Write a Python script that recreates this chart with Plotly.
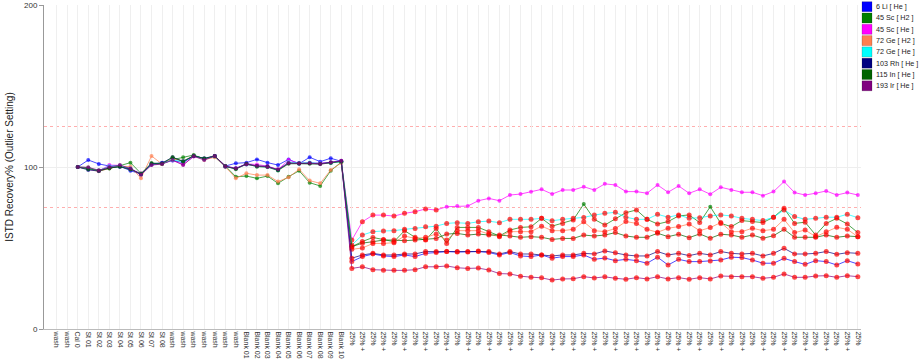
import plotly.graph_objects as go

# ---------------- data ----------------
tick_labels = (["wash", "wash", "Cal 0"] + ["St %02d" % i for i in range(1, 9)] + ["wash"] * 7
               + ["Blank %02d" % i for i in range(1, 11)]
               + [("25%" if k % 2 == 0 else "25% +") for k in range(49)])

series_names = ["6 Li [ He ]", "45 Sc [ H2 ]", "45 Sc [ He ]", "72 Ge [ H2 ]",
                "72 Ge [ He ]", "103 Rh [ He ]", "115 In [ He ]", "193 Ir [ He ]"]
series_colors = ["#0000FF", "#008000", "#FF00FF", "#FF7F50",
                 "#00FFFF", "#000080", "#006400", "#800080"]

li6 = [None, None,
       100, 104.3, 101.9, 100.6, 100.5, 97.7, 95.7, 101.5, 102.7, 104, 102.7, 107, 105, 106.8, 100.6,
       102.3, 102.7, 104.7, 102.7, 101.2, 104.7, 102, 106, 103.3, 105.4, 103.5,
       41.6, 44.7, 46.3, 45.1, 44.7, 45.7, 44.7, 46.7, 47.2, 47.8, 47.5, 47.5, 47.8, 47.2, 45.7,
       47.2, 45.1, 44.7, 45.7, 43.7, 44.7, 44.7, 45.7, 43, 43.8, 42.2, 43, 42.2, 40.6, 44.3,
       39.5, 43, 41.6, 41.6, 42, 42.6, 44.3, 44.1, 42.6, 40.6, 40.6, 43.6, 41.6, 39.9, 42.2,
       41.6, 39.5, 42.2, 40.1]
sc45_h2 = [None, None,
           100, 99.6, 97.5, 99, 100.8, 102.7, 96, 101.5, 102, 104.5, 106, 107.4, 105, 106.5, 100.6,
           94, 94.4, 93, 94.4, 89.9, 94, 97.7, 90.3, 88.3, 97.7, 103,
           50.8, 54, 56.5, 55.3, 53.9, 60.7, 56.6, 54.9, 62.1, 52.8, 62.7, 62.7, 62.7, 60.1, 57.4,
           61.1, 62.7, 63.1, 68.3, 63.5, 65.2, 67.3, 77.1, 67.7, 64.2, 68, 71.8, 73.5, 67.7, 64.8,
           66.3, 69.8, 70.4, 65.7, 75.5, 65.2, 63.2, 66.9, 66.3, 65.7, 69, 74.5, 65.2, 65.9, 58,
           65.2, 68.3, 64.8, 59.5]
sc45_he = [None, None,
           100, 98.8, 97.5, 101.2, 101, 99, 96, 101.5, 102.2, 104, 101.5, 106.5, 104.8, 106.8, 100.6,
           99.2, 102, 101.5, 100.6, 98.4, 104.3, 102.3, 102.5, 102.3, 102.8, 103.8,
           54.9, 66.2, 70.3, 70.3, 69.7, 71.4, 72.4, 74.1, 73.4, 75.5, 75.9, 75.9, 79.2, 80.6, 79.2,
           82.7, 83.3, 84.7, 86.2, 83.3, 85.8, 85.8, 87.8, 85.8, 89.6, 88.9, 84.8, 84.8, 83.8, 88.9,
           84.4, 88.3, 83.8, 86.2, 83.2, 87.5, 85.8, 84.4, 84.4, 82.3, 84.8, 91, 84.2, 82.7, 83.8,
           85.2, 82.7, 84.2, 82.7]
ge72_h2 = [None, None,
           100, 98.8, 97.3, 99.2, 100.5, 100.2, 93, 106.8, 101.8, 105, 103.8, 107, 104.5, 106, 100.2,
           93, 96.1, 95, 95, 91, 93.6, 98.6, 91.6, 89.9, 98.2, 102.5,
           49.2, 50, 52.8, 52.8, 53.3, 57.4, 55.9, 56.6, 58.6, 54.9, 60.7, 60.7, 60.7, 58.6, 57,
           60.1, 60.1, 60.1, 63.5, 60.7, 60.7, 61.5, 66.2, 60.7, 60.1, 62, 66.3, 65.2, 61.5, 59.7,
           62.2, 63.2, 64.8, 60.7, 62.6, 65.7, 60.1, 60.1, 62.2, 60.7, 61.5, 67.7, 59.5, 61.1, 57,
           60.1, 62.8, 61.5, 57]
ge72_he = [None, None,
           100, 98.7, 97.8, 100.5, 100.8, 99, 95.5, 101.8, 102.2, 104.2, 103.5, 106.8, 105, 106.6, 100.4,
           99, 101.6, 100.4, 100, 98, 103, 102.5, 102.8, 102.2, 102.5, 103.3,
           51.8, 58, 60.1, 60.5, 60.7, 61.5, 62.1, 63.1, 63.5, 65.2, 65.6, 65.2, 66.2, 66.6, 65.6,
           67.7, 67.7, 67.7, 68.3, 66.8, 67.7, 68.3, 68.9, 70.3, 71.4, 72, 69, 67.7, 67.7, 70.8,
           69, 70.4, 68.3, 68.7, 69.8, 70.4, 69.8, 68.3, 67.7, 66.9, 69, 73.5, 69.4, 67.7, 68.3,
           69, 69, 70.8, 68.7]
rh103 = [None, None,
         100, 98.2, 97.5, 99.5, 100, 98.8, 95.5, 102, 102.5, 106, 103.5, 106.8, 105.4, 106.8, 100.2,
         99, 102, 100.6, 100.4, 98.2, 102.3, 102.3, 102.3, 102, 103, 103.5,
         43.7, 45.7, 46.7, 45.7, 45.7, 46.3, 46.3, 47.8, 47.8, 47.8, 47.8, 47.8, 48.2, 47.8, 46.3,
         47.8, 46.3, 46.3, 45.7, 45.1, 45.7, 45.7, 46.7, 46.3, 48.2, 47.1, 45.7, 45.1, 45.1, 47.8,
         45.7, 46.7, 45.3, 46.7, 45.7, 47.8, 46.7, 46.3, 46.7, 45.1, 46.7, 49.8, 46.3, 46.3, 46.7,
         47.8, 46.1, 47.1, 46.7]
in115 = [None, None,
         100, 98.8, 97.8, 99.3, 100.3, 98.5, 95.8, 102.5, 102, 106, 103.3, 107, 105.2, 106.8, 100.6,
         98.6, 101.9, 100.2, 100, 97.8, 102, 102, 102, 101.8, 102.5, 103.3,
         50.8, 53, 53.9, 54.9, 54.9, 54.5, 54.9, 55.3, 55.9, 58.6, 59, 58, 58.6, 58, 58,
         57.4, 56.6, 57, 56.6, 55.3, 55.9, 55.9, 58, 57.4, 58, 59.5, 57.4, 56.6, 56.6, 59.1,
         57, 58.5, 56.4, 58.7, 56, 58.5, 58, 56.6, 58, 56, 57.6, 61.5, 56.6, 56.6, 56.6,
         58, 56.6, 57.4, 57]
ir193 = [None, None,
         100, 99.8, 98, 100, 101.2, 99, 95.2, 101.2, 101.8, 104.3, 101.2, 106.6, 104.3, 106.8, 100.5,
         99.2, 101.5, 100.8, 100, 98.6, 102.5, 102.3, 102.5, 101.8, 102.8, 103.8,
         37.4, 38.4, 36.6, 36.2, 36.2, 36.2, 36.6, 38.4, 38.4, 38.9, 37.8, 37.4, 37.6, 36.4, 34.2,
         34, 32.6, 32, 31.6, 30.2, 30.9, 31, 32.3, 31.5, 32.2, 31.3, 30.7, 31.7, 30.9, 32.3,
         30.9, 31.7, 30.7, 31.7, 30.9, 32.7, 32.3, 32.3, 32.3, 31.3, 31.9, 34, 31.9, 31.9, 32.7,
         32.9, 31.9, 32.9, 32.3]

all_series = [li6, sc45_h2, sc45_he, ge72_h2, ge72_he, rh103, in115, ir193]
lower_limit = 75
upper_limit = 125
y_ticks = [0, 100, 200]

# ---------------- figure ----------------
FONT = "Arial, Liberation Sans, sans-serif"
x_idx = list(range(len(tick_labels)))


def rgba(hex_color, a):
    h = hex_color.lstrip("#")
    return "rgba(%d,%d,%d,%.2f)" % (int(h[0:2], 16), int(h[2:4], 16), int(h[4:6], 16), a)


fig = go.Figure()
for name, color, vals in zip(series_names, series_colors, all_series):
    mcolors, msizes = [], []
    for v in vals:
        if v is not None and (v < lower_limit or v > upper_limit):
            mcolors.append("#FF0000")
            msizes.append(5)
        else:
            mcolors.append(color)
            msizes.append(4)
    fig.add_trace(go.Scatter(
        x=x_idx, y=vals, name=name, mode="lines+markers",
        line=dict(color=rgba(color, 0.7), width=1),
        marker=dict(color=mcolors, size=msizes, line=dict(width=0)),
        showlegend=False, connectgaps=False,
    ))

# threshold lines
for lv in (upper_limit, lower_limit):
    fig.add_shape(type="line", xref="paper", x0=0, x1=1, yref="y", y0=lv, y1=lv,
                  line=dict(color="rgba(255,120,120,0.6)", width=1, dash="dot"), layer="below")

# manual legend (colored squares + labels) to the right of the plot
L, R, T, B = 44, 861, 5, 329
W, H = R - L, B - T
for k, (name, color) in enumerate(zip(series_names, series_colors)):
    top = 1.7 + 11.3 * k
    fig.add_shape(type="rect", xref="paper", yref="paper",
                  x0=(862 - L) / W, x1=(872 - L) / W,
                  y0=(B - top) / H, y1=(B - top - 10) / H,
                  fillcolor=color, line=dict(color="rgba(0,0,0,0.35)", width=0.5))
    fig.add_annotation(xref="paper", yref="paper", x=(873.5 - L) / W, y=(B - top - 5) / H,
                       text=name, showarrow=False, xanchor="left", yanchor="middle",
                       font=dict(family=FONT, size=7.2, color="#222"))

fig.update_layout(
    width=920, height=363,
    margin=dict(l=L, r=920 - R, t=T, b=363 - B, autoexpand=False),
    paper_bgcolor="white", plot_bgcolor="white",
    font=dict(family=FONT, color="#333"),
    showlegend=False,
)
fig.update_xaxes(
    range=[-1.2, 76.3], tickmode="array", tickvals=x_idx, ticktext=tick_labels,
    tickangle=90, tickfont=dict(size=7, color="#333"),
    showgrid=True, gridcolor="#efefef", gridwidth=1,
    showline=True, linecolor="#bbbbbb", linewidth=1,
    ticks="", zeroline=False, automargin=False,
)
fig.update_yaxes(
    range=[0, 200], tickmode="array", tickvals=y_ticks,
    tickfont=dict(size=8, color="#333"),
    showgrid=True, gridcolor="#eeeeee", gridwidth=1,
    showline=True, linecolor="#999999", linewidth=1,
    ticks="outside", ticklen=4, tickcolor="#999999",
    zeroline=False, automargin=False,
    title=dict(text="ISTD Recovery% (Outlier Setting)", font=dict(size=10, color="#222"), standoff=8),
)

fig.write_html("out.html", config={"displayModeBar": False},
               post_script="document.body.style.margin='0';document.body.style.overflow='hidden';")
